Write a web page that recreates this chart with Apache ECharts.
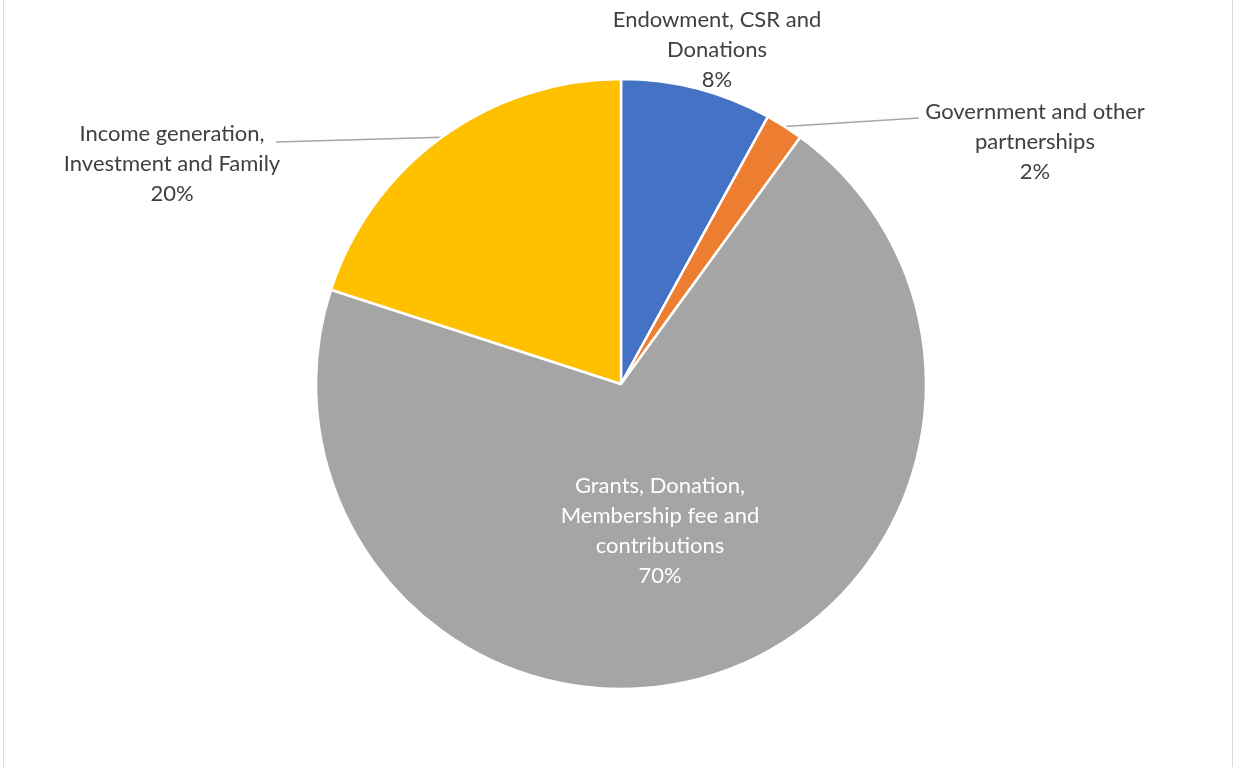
<!DOCTYPE html>
<html>
<head>
<meta charset="utf-8">
<script src="https://cdn.jsdelivr.net/npm/echarts@6/dist/echarts.min.js"></script>
<style>
html,body{margin:0;padding:0;background:#fff;}
#chart{width:1236px;height:767px;}
</style>
</head>
<body>
<div id="chart"></div>
<script>
var categories = [
  "Endowment, CSR and\nDonations",
  "Government and other\npartnerships",
  "Grants, Donation,\nMembership fee and\ncontributions",
  "Income generation,\nInvestment and Family"
];
var values = [8, 2, 70, 20];
var colors = ["#4472C4", "#ED7D31", "#A5A5A5", "#FFC000"];

var labelCenters = [[717, 50], [1035, 142], [660, 531], [172, 164]];
var lineEnds = [null, [919, 118], null, [276, 142]];

var chart = echarts.init(document.getElementById('chart'));
var data = categories.map(function (c, i) {
  var item = { name: c, value: values[i], itemStyle: { color: colors[i] } };
  if (i === 2) {
    item.label = { color: '#ffffff' };
  }
  if (i === 0 || i === 2) {
    item.labelLine = { show: false };
  }
  return item;
});

chart.setOption({
  animation: false,
  graphic: [{
    type: 'rect',
    shape: { x: 3.5, y: -10, width: 1229, height: 790 },
    style: { fill: 'none', stroke: '#d9d9d9', lineWidth: 1 },
    silent: true
  }],
  series: [{
    type: 'pie',
    center: [621, 384],
    radius: [0, 305],
    startAngle: 90,
    clockwise: true,
    avoidLabelOverlap: false,
    itemStyle: { borderColor: '#ffffff', borderWidth: 2.5 },
    label: {
      show: true,
      formatter: function (p) { return p.name + '\n' + Math.round(p.percent) + '%'; },
      fontFamily: 'Lato, Open Sans, sans-serif',
      fontSize: 22,
      lineHeight: 30,
      color: '#404040',
      align: 'center'
    },
    labelLine: {
      show: true,
      length: 20,
      length2: 20,
      smooth: false,
      lineStyle: { color: '#a6a6a6', width: 1.3 }
    },
    labelLayout: function (params) {
      var i = params.dataIndex;
      var c = labelCenters[i];
      var res = { x: c[0], y: c[1], align: 'center', verticalAlign: 'middle' };
      if (lineEnds[i] && params.labelLinePoints) {
        var p0 = params.labelLinePoints[0];
        res.labelLinePoints = [p0, lineEnds[i], lineEnds[i]];
      }
      return res;
    },
    data: data
  }]
});
</script>
</body>
</html>
